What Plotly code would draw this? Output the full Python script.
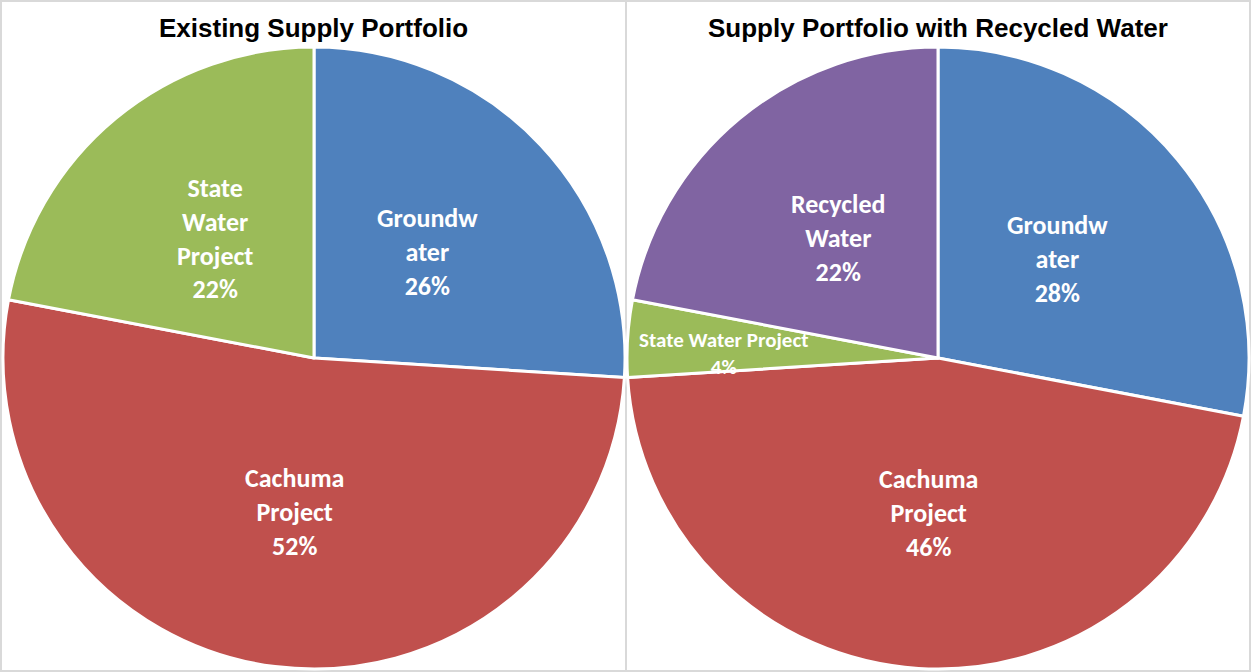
import math
import plotly.graph_objects as go

W, H = 1251, 672

# ---- data ----
existing_labels = ["Groundwater", "Cachuma Project", "State Water Project"]
existing_values = [26, 52, 22]
existing_text = ["Groundw<br>ater", "Cachuma<br>Project", "State<br>Water<br>Project"]

recycled_labels = ["Groundwater", "Cachuma Project", "State Water Project", "Recycled Water"]
recycled_values = [28, 46, 4, 22]
recycled_text = ["Groundw<br>ater", "Cachuma<br>Project", "State Water Project", "Recycled<br>Water"]

titles = ["Existing Supply Portfolio", "Supply Portfolio with Recycled Water"]

colors = {
    "Groundwater": "#4F81BD",
    "Cachuma Project": "#C0504D",
    "State Water Project": "#9BBB59",
    "Recycled Water": "#8064A2",
}

# ---- layout geometry (pixels) ----
domains_px = [(3, 625), (627, 1249)]
y_px = (47, 669)
label_font = dict(family="Carlito, Lato, sans-serif", size=26, color="white")
small_label_font = dict(family="Carlito, Lato, sans-serif", size=21, color="white")

fig = go.Figure()
annotations = []

# per-panel label placement tweaks: label -> (radius factor, vertical pixel shift)
panels = [
    (existing_labels, existing_values, existing_text, {}),
    (recycled_labels, recycled_values, recycled_text, {"State Water Project": (0.69, -9)}),
]

for i, (labels, values, texts, override) in enumerate(panels):
    x0, x1 = domains_px[i]
    fig.add_trace(go.Pie(
        labels=labels,
        values=values,
        sort=False,
        direction="clockwise",
        rotation=0,
        marker=dict(colors=[colors[l] for l in labels], line=dict(color="white", width=3)),
        textinfo="none",
        hoverinfo="label+percent",
        showlegend=False,
        domain=dict(x=[x0 / W, x1 / W], y=[1 - y_px[1] / H, 1 - y_px[0] / H]),
    ))
    cx = (x0 + x1) / 2
    cy = (y_px[0] + y_px[1]) / 2
    R = (x1 - x0) / 2
    total = sum(values)
    cum = 0
    for lab, v, t in zip(labels, values, texts):
        mid = (cum + v / 2) / total * 2 * math.pi
        cum += v
        rf, ys = override.get(lab, (0.5, 0))
        px = cx + rf * R * math.sin(mid)
        py = cy - rf * R * math.cos(mid)
        pct = round(v / total * 100)
        font = small_label_font if lab in override else label_font
        annotations.append(dict(
            x=px / W, y=1 - py / H, xref="paper", yref="paper", yshift=ys,
            text=f"<b>{t}<br>{pct}%</b>", showarrow=False,
            xanchor="center", yanchor="middle", font=font, align="center",
        ))
    annotations.append(dict(
        x=cx / W, y=1 - 28 / H, xref="paper", yref="paper",
        text=f"<b>{titles[i]}</b>", showarrow=False,
        xanchor="center", yanchor="middle",
        font=dict(family="Liberation Sans, Arial, sans-serif", size=26, color="black"),
    ))

shapes = [
    dict(type="rect", xref="paper", yref="paper", x0=1 / W, x1=1 - 1 / W, y0=1 / H, y1=1 - 1 / H,
         line=dict(color="#D9D9D9", width=2), layer="below"),
    dict(type="line", xref="paper", yref="paper", x0=626 / W, x1=626 / W, y0=0, y1=1,
         line=dict(color="#D9D9D9", width=2), layer="below"),
]

fig.update_layout(
    width=W, height=H,
    margin=dict(l=0, r=0, t=0, b=0),
    paper_bgcolor="white", plot_bgcolor="white",
    annotations=annotations,
    shapes=shapes,
)

fig.write_html(
    "out.html",
    config={"displayModeBar": False},
    post_script="document.body.style.margin='0';document.body.style.overflow='hidden';",
)
